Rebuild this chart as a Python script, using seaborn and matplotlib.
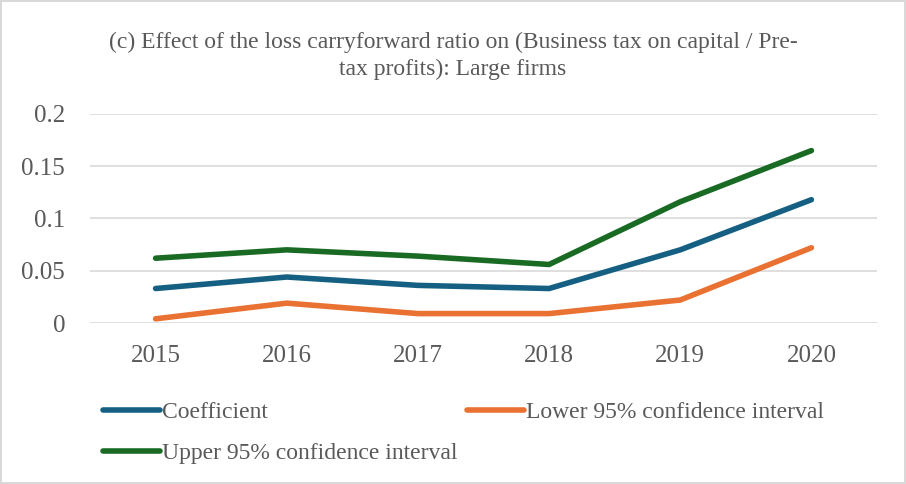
import matplotlib.pyplot as plt
import seaborn as sns
import pandas as pd

# values
years = ['2015', '2016', '2017', '2018', '2019', '2020']
coefficient = [0.033, 0.044, 0.036, 0.033, 0.070, 0.118]
lower_ci = [0.004, 0.019, 0.009, 0.009, 0.022, 0.072]
upper_ci = [0.062, 0.070, 0.064, 0.056, 0.116, 0.165]
series_names = ['Coefficient', 'Lower 95% confidence interval', 'Upper 95% confidence interval']

df = pd.DataFrame({
    'year': years * 3,
    'value': coefficient + lower_ci + upper_ci,
    'series': [s for s in series_names for _ in years],
})

sns.set_style("white")
plt.rcParams['font.family'] = ['Liberation Serif', 'DejaVu Serif']

colors = {
    'Coefficient': '#156082',
    'Lower 95% confidence interval': '#E97132',
    'Upper 95% confidence interval': '#196B24',
}

fig = plt.figure(figsize=(9.06, 4.84), dpi=100)
fig.patch.set_edgecolor('#D9D9D9')
fig.patch.set_linewidth(1.5)
ax = fig.add_axes([90 / 906, 1 - 323 / 484, 787 / 906, 209 / 484])

sns.lineplot(data=df, x='year', y='value', hue='series', palette=colors,
             linewidth=4, ax=ax, legend=False, sort=False)
for line in ax.lines:
    line.set_solid_capstyle('round')

ax.set_xlim(-0.5, 5.5)
ax.set_ylim(0, 0.2)
ax.set_yticks([0, 0.05, 0.1, 0.15, 0.2])
ax.set_yticklabels(['0', '0.05', '0.1', '0.15', '0.2'])
ax.yaxis.grid(True, color='#D9D9D9', linewidth=1.2)
ax.set_axisbelow(True)
for s in ax.spines.values():
    s.set_visible(False)
ax.tick_params(axis='both', labelsize=18, colors='#595959', length=0)
ax.tick_params(axis='x', pad=16)
ax.tick_params(axis='y', pad=18)
ax.set_xlabel('')
ax.set_ylabel('')

fig.text(0.5, 0.935,
         '(c) Effect of the loss carryforward ratio on (Business tax on capital / Pre-\ntax profits): Large firms',
         ha='center', va='top', fontsize=17, color='#595959', linespacing=1.4)

# row-wise order for a 2-column legend
order = ['Coefficient', 'Upper 95% confidence interval', 'Lower 95% confidence interval']
handles = [plt.Line2D([], [], color=colors[s], linewidth=4, solid_capstyle='round') for s in order]
fig.legend(handles, order, ncol=2, loc='upper left', bbox_to_anchor=(82 / 906, 1 - 380 / 484),
           frameon=False, fontsize=17, handlelength=2.4, handletextpad=0.1,
           columnspacing=0.4, labelspacing=0.85, labelcolor='#595959')

fig.savefig('out.png', dpi=100)
